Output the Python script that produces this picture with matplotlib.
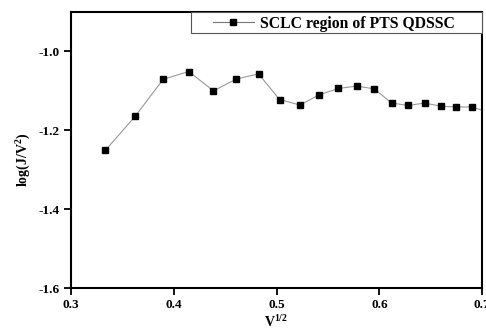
import matplotlib as mpl
mpl.use('Agg')
import matplotlib.pyplot as plt
from matplotlib.patches import Rectangle

# datos
v_half = [0.3334, 0.3627, 0.3896, 0.4146, 0.4386, 0.4610, 0.4825, 0.5029, 0.5227, 0.5416,
          0.5601, 0.5779, 0.5951, 0.6120, 0.6282, 0.6442, 0.6597, 0.6750, 0.6899, 0.7141]
logJV2 = [-1.251, -1.164, -1.071, -1.051, -1.100, -1.070, -1.057, -1.122, -1.136, -1.110,
          -1.094, -1.088, -1.095, -1.131, -1.137, -1.131, -1.139, -1.141, -1.141, -1.160]
xticks = [0.3, 0.4, 0.5, 0.6, 0.7]
yticks = [-1.6, -1.4, -1.2, -1.0]

params = {'font.family': 'Liberation Serif', 'font.weight': 'bold',
          'mathtext.fontset': 'custom', 'mathtext.rm': 'Liberation Serif:bold',
          'mathtext.it': 'Liberation Serif:bold', 'mathtext.bf': 'Liberation Serif:bold'}
mpl.rcParams.update(params)

fig = plt.figure(dpi=100., figsize=[4.86, 3.32])
ax = fig.add_axes((0.146, 0.1325, 0.992-0.146, 0.964-0.1325))
ax.plot(v_half, logJV2, '-s', color='#999999', linewidth=0.8, markersize=5,
        markerfacecolor='black', markeredgecolor='black', label='SCLC region of PTS QDSSC')

ax.set_xlim(0.3, 0.7)
ax.set_ylim(-1.6, -0.9)
ax.set_xticks(xticks)
ax.set_yticks(yticks)
ax.set_xticklabels(['%.1f' % t for t in xticks], fontsize=9.5, fontweight='bold')
ax.set_yticklabels(['%.1f' % t for t in yticks], fontsize=9.5, fontweight='bold')
ax.tick_params(direction='out', length=5, width=1.3, pad=3)
for s in ax.spines.values():
    s.set_linewidth(1.5)

ax.set_xlabel(r'V$^{1/2}$', fontsize=10, fontweight='bold', labelpad=2)
ax.set_ylabel(r'log(J/V$^{2}$)', fontsize=10, fontweight='bold')
ax.yaxis.set_label_coords(-0.092, 0.464)

# caja de la leyenda dibujada aparte
ax.add_patch(Rectangle((0.292, 0.924), 0.708, 0.076, transform=ax.transAxes, fill=True,
                       facecolor='white', edgecolor='#555555', linewidth=0.8, zorder=4,
                       clip_on=False))
leg = ax.legend(loc='upper left', bbox_to_anchor=(0.3358, 1.0), frameon=False,
                fontsize=11.3, borderaxespad=0, handlelength=2.6, borderpad=0.25,
                handletextpad=0.4)
leg.set_zorder(5)
leg.get_lines()[0].set_color('#777777')

fig.savefig('out.png', dpi=100)
